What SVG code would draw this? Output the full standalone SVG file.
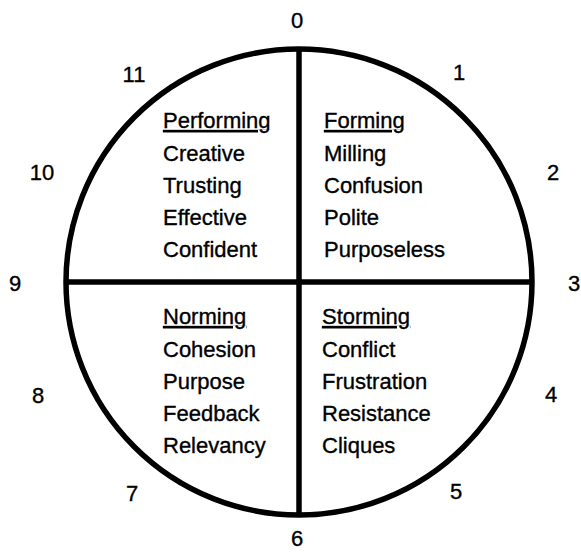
<svg xmlns="http://www.w3.org/2000/svg" width="581" height="552" viewBox="0 0 581 552">
<style>
text{font-family:"Liberation Sans",Arial,sans-serif;font-size:22px;fill:#000;stroke:#000;stroke-width:0.35}
.n{text-anchor:middle}
.h{text-decoration:underline}
.ln{stroke:#000;stroke-width:5.5;fill:none}
</style>
<rect width="581" height="552" fill="#fff"/>
<g id="connectors">
<circle class="ln" cx="299" cy="282" r="233"/>
<line class="ln" x1="299" y1="49" x2="299" y2="515"/>
<line class="ln" x1="66" y1="282" x2="532" y2="282"/>
</g>
<g id="numbers">
<text class="n" x="297" y="28">0</text>
<text class="n" x="459" y="80">1</text>
<text class="n" x="553" y="180">2</text>
<text class="n" x="574" y="291">3</text>
<text class="n" x="551" y="402">4</text>
<text class="n" x="456" y="499">5</text>
<text class="n" x="297" y="546">6</text>
<text class="n" x="132" y="501">7</text>
<text class="n" x="38" y="403">8</text>
<text class="n" x="15" y="291">9</text>
<text class="n" x="42" y="180">10</text>
<text class="n" x="134" y="82">11</text>
</g>
<g id="performing">
<text x="163" y="128"><tspan class="h">Performing</tspan><tspan x="163" dy="33">Creative</tspan><tspan x="163" dy="32">Trusting</tspan><tspan x="163" dy="32">Effective</tspan><tspan x="163" dy="32">Confident</tspan></text>
</g>
<g id="forming">
<text x="324" y="128"><tspan class="h">Forming</tspan><tspan x="324" dy="33">Milling</tspan><tspan x="324" dy="32">Confusion</tspan><tspan x="324" dy="32">Polite</tspan><tspan x="324" dy="32">Purposeless</tspan></text>
</g>
<g id="norming">
<text x="163" y="324"><tspan class="h">Norming</tspan><tspan x="163" dy="33">Cohesion</tspan><tspan x="163" dy="32">Purpose</tspan><tspan x="163" dy="32">Feedback</tspan><tspan x="163" dy="32">Relevancy</tspan></text>
</g>
<g id="storming">
<text x="322" y="324"><tspan class="h">Storming</tspan><tspan x="322" dy="33">Conflict</tspan><tspan x="322" dy="32">Frustration</tspan><tspan x="322" dy="32">Resistance</tspan><tspan x="322" dy="32">Cliques</tspan></text>
</g>
</svg>
